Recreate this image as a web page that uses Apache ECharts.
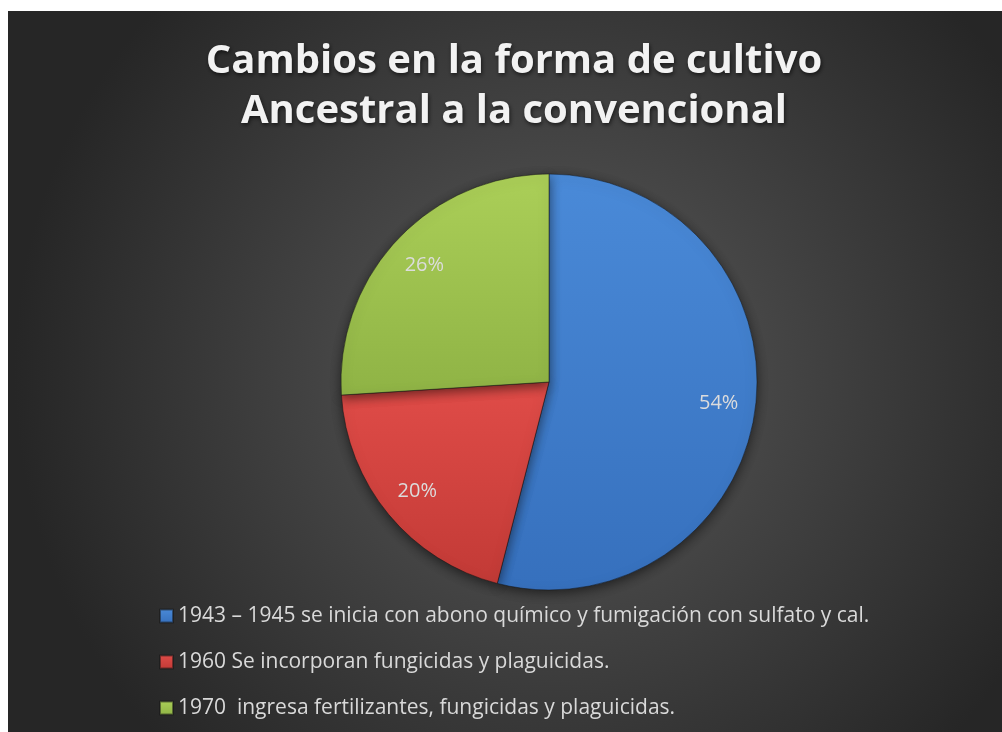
<!DOCTYPE html>
<html>
<head>
<meta charset="utf-8">
<script src="https://cdn.jsdelivr.net/npm/echarts@6/dist/echarts.min.js"></script>
<style>
  html, body { margin: 0; padding: 0; background: #fff; }
  #chart { position: absolute; left: 8px; top: 11px; width: 994px; height: 721px; }
</style>
</head>
<body>
<div id="chart"></div>
<script>
// data
const titleLines = ['Cambios en la forma de cultivo', 'Ancestral a la convencional'];
const categories = [
    '1943 – 1945 se inicia con abono químico y fumigación con sulfato y cal.',
    '1960 Se incorporan fungicidas y plaguicidas.',
    '1970  ingresa fertilizantes, fungicidas y plaguicidas.'
];
const shares = [54, 20, 26];
const sliceColors = [
    ['#4a8ad8', '#3670bd'],
    ['#e04c48', '#c23a36'],
    ['#abcf58', '#8fb345']
];

const grad = (c) => new echarts.graphic.LinearGradient(0, 0, 0, 1, [
    { offset: 0, color: c[0] },
    { offset: 1, color: c[1] }
]);

const pieData = categories.map((name, i) => ({
    name,
    value: shares[i],
    itemStyle: { color: grad(sliceColors[i]) }
}));

const chart = echarts.init(document.getElementById('chart'));

chart.setOption({
    animation: false,
    backgroundColor: new echarts.graphic.RadialGradient(0.55, 0.5, 0.75, [
        { offset: 0, color: '#5a5a5a' },
        { offset: 1, color: '#262626' }
    ]),
    title: {
        text: titleLines.join('\n'),
        left: 501,
        top: 21,
        textAlign: 'center',
        textStyle: {
            fontFamily: 'Open Sans',
            fontWeight: 'bold',
            fontSize: 40,
            lineHeight: 50,
            color: '#f2f2f2',
            textShadowColor: 'rgba(0,0,0,0.6)',
            textShadowBlur: 4,
            textShadowOffsetX: 1,
            textShadowOffsetY: 2
        }
    },
    legend: {
        orient: 'vertical',
        left: 146,
        top: 589,
        itemWidth: 13,
        itemHeight: 13,
        itemGap: 24,
        icon: 'rect',
        data: categories,
        textStyle: {
            fontFamily: 'Open Sans',
            fontSize: 21,
            lineHeight: 22,
            color: '#d9d9d9'
        }
    },
    series: [
        {
            type: 'pie',
            center: [541, 371],
            radius: [0, 208],
            startAngle: 90,
            clockwise: true,
            silent: true,
            data: pieData,
            itemStyle: {
                borderColor: 'rgba(20,20,20,0.5)',
                borderWidth: 1,
                shadowColor: 'rgba(0,0,0,0.55)',
                shadowBlur: 12,
                shadowOffsetY: 3
            },
            label: { show: false },
            labelLine: { show: false }
        },
        {
            // transparent twin, only used to place the labels farther out
            type: 'pie',
            center: [541, 371],
            radius: [0, 336],
            startAngle: 90,
            clockwise: true,
            silent: true,
            legendHoverLink: false,
            data: categories.map((name, i) => ({ name, value: shares[i] })),
            itemStyle: { color: 'rgba(0,0,0,0)' },
            label: {
                show: true,
                position: 'inside',
                formatter: '{c}%',
                fontFamily: 'Open Sans',
                fontSize: 20,
                color: '#dcdcdc'
            },
            labelLine: { show: false }
        }
    ]
});
</script>
</body>
</html>
